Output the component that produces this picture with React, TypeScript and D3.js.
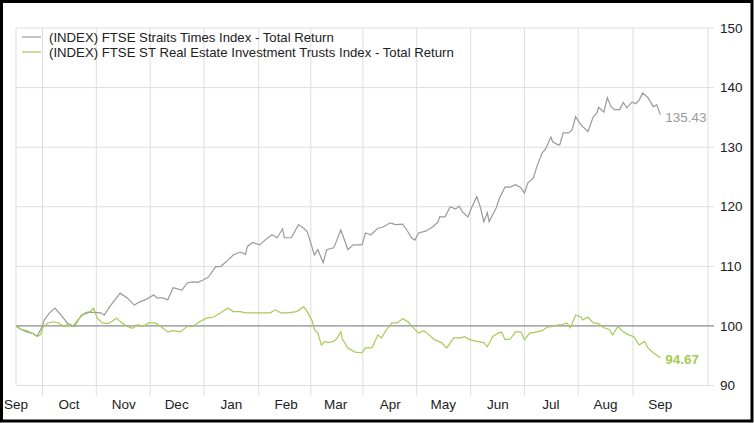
import React from 'react';
import * as d3 from 'd3';

// first trading day shown; data points are day offsets from it
const START = new Date(2016, 8, 1);
const yTicks = [90, 100, 110, 120, 130, 140, 150];

const stiDays = [
  0, 3, 6, 9, 12, 15, 16, 19, 22, 25, 29, 33, 37, 42, 48, 50, 53, 59, 63, 67,
  70, 74, 78, 80, 83, 86, 89, 94, 97, 100, 103, 106, 109, 113, 116, 120, 123, 127, 130, 131,
  134, 138, 141, 145, 148, 151, 152, 156, 160, 163, 165, 167, 169, 171, 174, 176, 180, 184, 185, 188,
  191, 196, 198, 201, 205, 208, 212, 215, 219, 222, 224, 226, 228, 232, 236, 239, 240, 243, 246, 249,
  251, 253, 256, 258, 261, 263, 265, 267, 268, 272, 274, 277, 280, 283, 286, 288, 290, 293, 295, 298,
  300, 303, 304, 307, 308, 310, 313, 315, 317, 319, 321, 322, 324, 327, 329, 330, 333, 335, 337, 339,
  342, 344, 346, 349, 351, 353, 355, 358, 361, 363, 365,
];
const stiValues = [
  100, 99.4, 99.0, 98.8, 98.3, 100.0, 101, 102.2, 103, 102, 100.5, 99.9, 101.8, 102.3, 102.2, 101.8, 103.2, 105.5, 104.7, 103.5,
  104, 104.5, 105.2, 104.7, 104.7, 104.4, 106.4, 106, 107.2, 107.4, 107.3, 107.7, 108.2, 109.9, 110, 111, 111.9, 112.4, 112, 113.3,
  114, 113.6, 114.4, 115.3, 114.8, 116.3, 114.8, 114.8, 117, 116.4, 115.8, 113.9, 111.9, 112.8, 110.6, 112.8, 113.1, 116.1, 115.3, 112.8,
  113.6, 113.6, 115.6, 115.3, 116.4, 116.6, 117.3, 117, 117.1, 115.8, 114.8, 114.4, 115.6, 115.9, 116.6, 117.4, 118.3, 118.3, 120, 119.6,
  120.1, 119.1, 118.3, 119.8, 121.7, 120, 117.5, 119, 117.5, 119.8, 121.5, 123.3, 123.3, 123.7, 123.2, 122.3, 124, 124.8, 126.7, 129,
  129.7, 131.7, 130.9, 130.4, 130.4, 132.4, 132.4, 132.9, 135.1, 134.2, 133.4, 133.2, 132.6, 135.1, 135.7, 136.7, 135.9, 138.3, 136.8, 136.3,
  136.3, 137.5, 136.6, 137.6, 137.3, 137.9, 139.1, 138.3, 136.8, 137.1, 135.43,
];

const reitDays = [
  0, 3, 6, 9, 12, 14, 15, 18, 21, 24, 27, 29, 32, 35, 39, 42, 44, 46, 49, 52,
  54, 57, 60, 63, 66, 69, 72, 75, 79, 82, 86, 89, 93, 97, 100, 104, 108, 112, 116, 120,
  123, 127, 130, 134, 140, 144, 147, 150, 154, 159, 163, 165, 168, 169, 171, 173, 175, 177, 180, 182,
  184, 185, 188, 192, 196, 198, 201, 202, 205, 207, 210, 213, 216, 219, 222, 225, 228, 231, 234, 237,
  241, 244, 248, 252, 254, 257, 261, 265, 267, 270, 273, 275, 277, 280, 283, 286, 288, 291, 295, 298,
  301, 304, 307, 309, 312, 314, 317, 320, 321, 324, 327, 330, 333, 336, 338, 341, 344, 347, 350, 353,
  356, 358, 361, 365,
];
const reitValues = [
  100, 99.4, 99.2, 98.8, 98.2, 98.6, 99.7, 100.5, 100.7, 100.5, 99.9, 100.2, 99.9, 101, 102.2, 102.4, 103, 101.3, 100.5, 100.4,
  100.7, 101.3, 100.5, 99.9, 99.6, 100.2, 99.9, 100.5, 100.5, 99.9, 99, 99.2, 99, 99.9, 99.9, 100.7, 101.3, 101.5, 102.2, 103,
  102.4, 102.4, 102.2, 102.2, 102.2, 102.2, 102.7, 102.2, 102.2, 102.4, 103.2, 102.4, 100.7, 99.4, 98.8, 96.8, 97.4, 97.2, 97.4, 98,
  99, 97.7, 96.3, 95.6, 95.5, 96.3, 96.3, 96.5, 98.5, 98, 99.4, 100.5, 100.5, 101.2, 100.7, 99.7, 98.8, 99.2, 98.5, 97.7,
  97.2, 96.3, 98, 98, 98.2, 97.7, 97.4, 97.2, 96.5, 98.2, 98.8, 99, 97.7, 97.8, 99, 99, 97.7, 98.8, 99, 99.2,
  99.8, 99.9, 100.2, 100.2, 100.5, 99.7, 101.8, 101.5, 101, 101.5, 100.5, 100.4, 99.7, 99.4, 98.5, 99.9, 99, 98.5, 98.2, 96.8,
  97.4, 96.3, 95.5, 94.67,
];

const seriesNames = [
  '(INDEX) FTSE Straits Times Index - Total Return',
  '(INDEX) FTSE ST Real Estate Investment Trusts Index - Total Return',
];
const lastLabels = ['135.43', '94.67'];

const W = 754;
const H = 423;
const margin = { top: 28, right: 46, bottom: 37.5, left: 16 };
const GRAY = '#9a9a9a';
const GREEN = '#a4cc56';
const FONT = 'Liberation Sans, Arial, sans-serif';

export default function App() {
  const x = d3
    .scaleTime()
    .domain([START, d3.timeDay.offset(START, 392)])
    .range([margin.left, W - margin.right]);
  const y = d3
    .scaleLinear()
    .domain([90, 150])
    .range([H - margin.bottom, margin.top]);

  const months = d3.timeMonth.range(START, d3.timeDay.offset(START, 366));
  const grid = months.slice(1).map((m, i) => new Date((m.getTime() + months[i].getTime()) / 2));
  const fmt = d3.timeFormat('%b');

  const toPts = (days: number[], vals: number[]) =>
    days.map((d, i) => ({ date: d3.timeDay.offset(START, d), v: vals[i] }));
  const series = [
    { pts: toPts(stiDays, stiValues), color: GRAY },
    { pts: toPts(reitDays, reitValues), color: GREEN },
  ];
  const line = d3
    .line<{ date: Date; v: number }>()
    .x((d) => x(d.date))
    .y((d) => y(d.v));

  const [x0, x1] = x.range();
  const [yb, yt] = y.range();

  return (
    <svg
      width={W}
      height={H}
      style={{ position: 'absolute', left: 0, top: 0, background: '#fff' }}
      fontFamily={FONT}
    >
      <rect x={0} y={0} width={W} height={H} fill="#fff" />
      {/* horizontal grid + ticks */}
      {yTicks.map((t) => (
        <g key={t}>
          {t !== 100 && (
            <line x1={x0} x2={x1 + 6} y1={y(t)} y2={y(t)} stroke="#dedede" strokeWidth={1} />
          )}
          <text x={x1 + 12} y={y(t)} dy="0.35em" fontSize={13.5} fill="#222">
            {t}
          </text>
        </g>
      ))}
      {/* vertical grid */}
      {grid.map((g, i) => (
        <line key={i} x1={x(g)} x2={x(g)} y1={yt} y2={yb + 10} stroke="#dedede" strokeWidth={1} />
      ))}
      <line x1={x0} x2={x0} y1={yt} y2={yb} stroke="#dedede" strokeWidth={1} />
      <line x1={x1} x2={x1} y1={yt} y2={yb} stroke="#dedede" strokeWidth={1} />
      {/* reference line at 100 */}
      <line x1={x0} x2={x1 + 6} y1={y(100)} y2={y(100)} stroke="#8c8c8c" strokeWidth={1.2} />
      {/* x labels */}
      {months.map((m, i) => (
        <text key={i} x={x(m)} y={409} textAnchor="middle" fontSize={13.5} fill="#222">
          {fmt(m)}
        </text>
      ))}
      {/* series */}
      {series.map((s, i) => (
        <path key={i} d={line(s.pts) || ''} fill="none" stroke={s.color} strokeWidth={1.2} />
      ))}
      {series.map((s, i) => {
        const last = s.pts[s.pts.length - 1];
        return (
          <text
            key={i}
            x={x(last.date) + 5}
            y={y(last.v) + 2}
            dy="0.35em"
            fontSize={13.5}
            fontWeight={i === 1 ? 'bold' : 'normal'}
            fill={s.color}
          >
            {lastLabels[i]}
          </text>
        );
      })}
      {/* legend */}
      {seriesNames.map((n, i) => (
        <g key={i} transform={`translate(22, ${37 + i * 15})`}>
          <line x1={0} x2={19} y1={0} y2={0} stroke={series[i].color} strokeWidth={1.2} />
          <text x={27} y={0} dy="0.35em" fontSize={13.2} fill="#222">
            {n}
          </text>
        </g>
      ))}
      {/* frame */}
      <rect x={1.5} y={1.5} width={W - 3.5} height={H - 3.5} fill="none" stroke="#000" strokeWidth={3} />
    </svg>
  );
}
